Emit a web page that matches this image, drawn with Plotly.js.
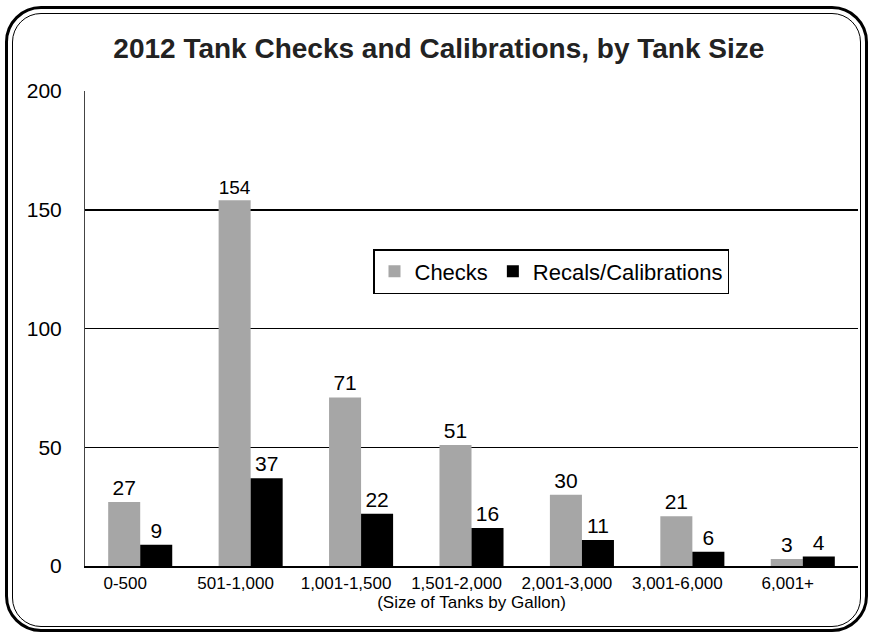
<!DOCTYPE html>
<html>
<head>
<meta charset="utf-8">
<script src="https://cdn.plot.ly/plotly-3.0.1.min.js"></script>
<style>
  html, body { margin: 0; padding: 0; background: #fff; }
  #wrap { position: relative; width: 869px; height: 633px; overflow: hidden; }
  #chart { position: absolute; left: 0; top: 0; width: 869px; height: 633px; }
  .frame { position: absolute; box-sizing: border-box; pointer-events: none; border-style: solid; border-color: #000; }
  #outer { left: 5px; top: 6px; width: 863px; height: 626px; border-width: 3.5px; border-radius: 36px; }
  #inner { left: 12px; top: 13px; width: 849px; height: 614px; border-width: 1.5px; border-radius: 29px; }
</style>
</head>
<body>
<div id="wrap">
  <div id="chart"></div>
  <div id="outer" class="frame"></div>
  <div id="inner" class="frame"></div>
</div>
<script>
const categories = ["0-500", "501-1,000", "1,001-1,500", "1,501-2,000", "2,001-3,000", "3,001-6,000", "6,001+"];
const checks = [27, 154, 71, 51, 30, 21, 3];
const recals = [9, 37, 22, 16, 11, 6, 4];
const seriesNames = ["Checks", "Recals/Calibrations"];
const yTicks = [0, 50, 100, 150, 200];

const FONT = "Liberation Sans, Arial, sans-serif";

const traces = [
  {
    type: "bar", name: seriesNames[0], x: categories, y: checks,
    marker: { color: "#a6a6a6", line: { width: 0 } },
    text: checks.map(String), textposition: "outside",
    textfont: { family: FONT, size: 21, color: "#000" },
    cliponaxis: false, hoverinfo: "none"
  },
  {
    type: "bar", name: seriesNames[1], x: categories, y: recals,
    marker: { color: "#000000", line: { width: 0 } },
    text: recals.map(String), textposition: "outside",
    textfont: { family: FONT, size: 21, color: "#000" },
    cliponaxis: false, hoverinfo: "none"
  }
];

const layout = {
  width: 869, height: 633,
  margin: { l: 85, r: 11, t: 91, b: 67 },
  paper_bgcolor: "rgba(0,0,0,0)", plot_bgcolor: "rgba(0,0,0,0)",
  font: { family: FONT, color: "#000" },
  barmode: "group", bargap: 0.42, bargroupgap: 0,
  title: {
    text: "<b>2012 Tank Checks and Calibrations, by Tank Size</b>",
    font: { family: FONT, size: 28, color: "#222" },
    x: 0.505, xref: "container", xanchor: "center",
    y: 1 - 48 / 633, yref: "container", yanchor: "middle"
  },
  xaxis: {
    type: "category", tickfont: { size: 17, family: FONT },
    showline: true, linecolor: "#000", linewidth: 2,
    ticks: "", ticklabelshift: -15, ticklabelstandoff: 1,
    showgrid: false,
    title: { text: "(Size of Tanks by Gallon)", font: { size: 17, family: FONT }, standoff: 0 }
  },
  yaxis: {
    range: [0, 200], tickvals: yTicks, ticktext: yTicks.map(String),
    tickfont: { size: 21, family: FONT },
    showgrid: true, gridcolor: "#000", gridwidth: 1.5,
    showline: true, linecolor: "#444", linewidth: 1,
    zeroline: false, ticks: "", ticklabelstandoff: 18
  },
  legend: {
    orientation: "h", x: (373 - 85) / 773, y: (566 - 249) / 475,
    xanchor: "left", yanchor: "top",
    bordercolor: "#000", borderwidth: 1.5, bgcolor: "#fff",
    font: { size: 22, family: FONT }
  },
  showlegend: true
};

Plotly.newPlot("chart", traces, layout, { staticPlot: true, displayModeBar: false });
</script>
</body>
</html>
